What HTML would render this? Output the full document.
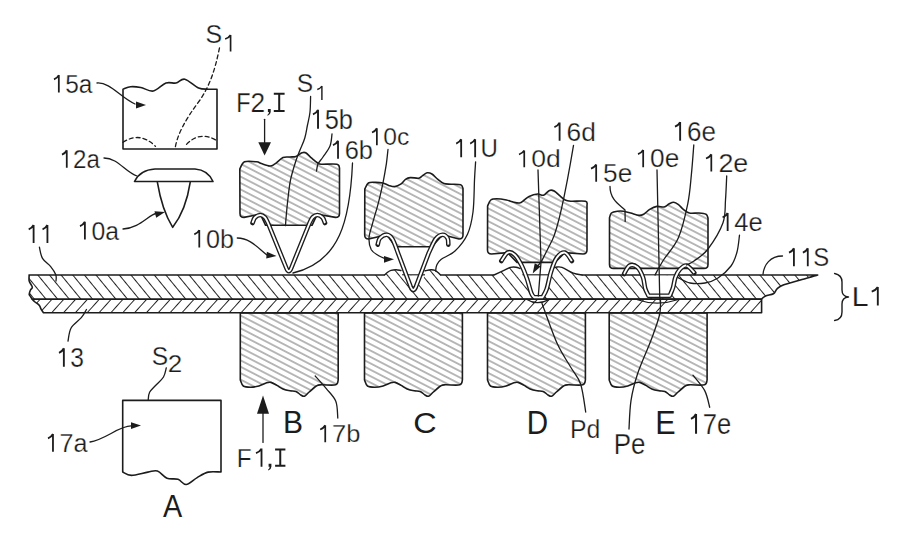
<!DOCTYPE html>
<html><head><meta charset="utf-8">
<style>
html,body{margin:0;padding:0;background:#fff;width:918px;height:537px;overflow:hidden}
svg{display:block}
text{font-family:"Liberation Sans",sans-serif;fill:#1c1c1c;stroke:#fff;stroke-width:0.25px}
</style></head><body>
<svg width="918" height="537" viewBox="0 0 918 537">
<defs>
<pattern id="hbU" patternUnits="userSpaceOnUse" width="60" height="5.69" patternTransform="translate(490.50,206.37) rotate(27.3)"><line x1="-10" y1="2.845" x2="70" y2="2.845" stroke="#4a4a4a" stroke-width="0.8"/></pattern>
<pattern id="hbL" patternUnits="userSpaceOnUse" width="60" height="5.69" patternTransform="translate(490.70,319.77) rotate(27.3)"><line x1="-10" y1="2.845" x2="70" y2="2.845" stroke="#4a4a4a" stroke-width="0.8"/></pattern>
<pattern id="h11" patternUnits="userSpaceOnUse" width="60" height="9.0" patternTransform="translate(111.08,272.04) rotate(50.6)"><line x1="-10" y1="4.5" x2="70" y2="4.5" stroke="#222" stroke-width="1.15"/></pattern>
<pattern id="h13" patternUnits="userSpaceOnUse" width="60" height="8.8" patternTransform="translate(107.63,309.76) rotate(-48)"><line x1="-10" y1="4.4" x2="70" y2="4.4" stroke="#222" stroke-width="1.15"/></pattern>
</defs>

<g fill="none" stroke="#1c1c1c" stroke-width="1.6" stroke-linejoin="round" stroke-linecap="round">
<path d="M29,275 L817.7,275 C815.1,275.8 807.6,277.9 802.0,279.5 C796.4,281.1 787.9,283.2 783.8,284.7 C779.7,286.2 779.0,287.1 777.3,288.6 C775.6,290.1 775.3,292.6 773.4,293.8 C771.5,295.0 767.6,295.0 765.6,295.9 C763.6,296.8 762.3,298.5 761.6,299.0 L32.3,299.3 C32.0,298.8 31.0,297.4 30.5,296.5 C30.0,295.6 29.2,295.3 29.2,294.2 C29.2,293.1 30.0,291.2 30.5,290.0 C31.0,288.8 32.5,288.5 32.3,287.0 C32.1,285.5 29.7,283.0 29.2,281.0 C28.7,279.0 29.2,276.0 29.2,275.0 Z" fill="url(#h11)"/>
<path d="M32.3,299.3 L761.6,299.3 L761.6,312.8 L43.5,312.8 C43.1,312.2 41.7,310.2 41.0,309.0 C40.3,307.8 40.4,306.6 39.4,305.4 C38.4,304.2 36.2,303.0 35.0,302.0 C33.8,301.0 32.8,299.8 32.3,299.3 Z" fill="url(#h13)"/>
<path d="M384.5,275.0 C385.1,274.5 386.9,272.8 388.0,272.0 C389.1,271.2 389.7,270.8 391.0,270.4 C392.3,270.0 394.3,269.7 396.0,269.7 C397.7,269.7 400.2,270.4 401.0,270.5 L402.5,276.2 L384.5,276.2 Z" fill="#fff" stroke="none"/>
<path d="M384.5,275.0 C385.1,274.5 386.9,272.8 388.0,272.0 C389.1,271.2 389.7,270.8 391.0,270.4 C392.3,270.0 394.3,269.7 396.0,269.7 C397.7,269.7 400.2,270.4 401.0,270.5 L402.5,276.2 L384.5,276.2 Z" fill="url(#h11)" stroke="none"/>
<path d="M425,276.2 L425,270.8 C426.0,270.6 429.3,269.8 431.0,269.7 C432.7,269.6 433.8,269.8 435.0,270.3 C436.2,270.8 437.1,271.7 438.0,272.5 C438.9,273.3 440.1,274.6 440.5,275.0 L440.5,276.2 Z" fill="#fff" stroke="none"/>
<path d="M425,276.2 L425,270.8 C426.0,270.6 429.3,269.8 431.0,269.7 C432.7,269.6 433.8,269.8 435.0,270.3 C436.2,270.8 437.1,271.7 438.0,272.5 C438.9,273.3 440.1,274.6 440.5,275.0 L440.5,276.2 Z" fill="url(#h11)" stroke="none"/>
<path d="M494.0,275.0 C495.6,274.3 500.7,272.0 503.4,270.7 C506.1,269.4 508.3,268.0 510.4,267.4 C512.5,266.8 514.4,267.0 516.0,267.2 C517.6,267.4 519.3,268.3 520.0,268.5 L523,276.2 L494,276.2 Z" fill="#fff" stroke="none"/>
<path d="M494.0,275.0 C495.6,274.3 500.7,272.0 503.4,270.7 C506.1,269.4 508.3,268.0 510.4,267.4 C512.5,266.8 514.4,267.0 516.0,267.2 C517.6,267.4 519.3,268.3 520.0,268.5 L523,276.2 L494,276.2 Z" fill="url(#h11)" stroke="none"/>
<path d="M549,276.2 L551,268.5 C551.8,268.3 554.2,267.4 556.0,267.2 C557.8,267.0 559.1,266.4 562.0,267.4 C564.9,268.4 570.0,271.9 573.3,273.2 C576.6,274.5 580.5,274.7 582.0,275.0 L582,276.2 Z" fill="#fff" stroke="none"/>
<path d="M549,276.2 L551,268.5 C551.8,268.3 554.2,267.4 556.0,267.2 C557.8,267.0 559.1,266.4 562.0,267.4 C564.9,268.4 570.0,271.9 573.3,273.2 C576.6,274.5 580.5,274.7 582.0,275.0 L582,276.2 Z" fill="url(#h11)" stroke="none"/>
<path d="M384.5,275.0 C385.1,274.5 386.9,272.8 388.0,272.0 C389.1,271.2 389.7,270.8 391.0,270.4 C392.3,270.0 394.3,269.7 396.0,269.7 C397.7,269.7 400.2,270.4 401.0,270.5" stroke-width="1.4"/>
<path d="M425.0,270.8 C426.0,270.6 429.3,269.8 431.0,269.7 C432.7,269.6 433.8,269.8 435.0,270.3 C436.2,270.8 437.1,271.7 438.0,272.5 C438.9,273.3 440.1,274.6 440.5,275.0" stroke-width="1.4"/>
<path d="M494.0,275.0 C495.6,274.3 500.7,272.0 503.4,270.7 C506.1,269.4 508.3,268.0 510.4,267.4 C512.5,266.8 514.4,267.0 516.0,267.2 C517.6,267.4 519.3,268.3 520.0,268.5" stroke-width="1.4"/>
<path d="M551.0,268.5 C551.8,268.3 554.2,267.4 556.0,267.2 C557.8,267.0 559.1,266.4 562.0,267.4 C564.9,268.4 570.0,271.9 573.3,273.2 C576.6,274.5 580.5,274.7 582.0,275.0" stroke-width="1.4"/>
<path d="M527,299.4 Q537,306 549.5,299.4" stroke-width="1.2"/>
<path d="M637.4,299.7 Q657,306.5 677.6,299.7" stroke-width="1.2"/>
<path d="M400.5,275.6 L413.3,291 L425.5,275.6 Z" fill="#fff" stroke="none"/>
<path d="M522,275.6 L527.1,279 L531.3,293 L534,297 L542.5,297 L546.7,289 L549.5,275.6 Z" fill="#fff" stroke="none"/>
<path d="M642,275.4 L645,288 L648.5,295.8 L669.8,295.8 L673,287 L676,275.4 Z" fill="#fff" stroke="none"/>
<path d="M239.8,169.0 C240.6,167.8 241.8,163.0 244.6,161.8 C247.4,160.6 253.8,161.5 256.6,161.8 C259.4,162.1 259.2,162.9 261.4,163.6 C263.6,164.3 267.6,165.9 269.8,166.0 C272.0,166.1 272.3,165.6 274.5,164.2 C276.7,162.8 280.4,158.8 283.0,157.6 C285.6,156.4 287.8,157.2 290.0,157.0 C292.2,156.8 294.0,157.1 296.0,156.4 C298.0,155.7 300.4,153.4 302.0,152.8 C303.6,152.2 304.1,151.9 305.7,152.8 C307.3,153.7 309.7,156.5 311.7,158.2 C313.7,159.9 316.1,162.0 317.7,163.0 C319.3,164.0 318.1,164.0 321.3,164.2 C324.5,164.4 333.9,163.6 336.9,164.2 C339.9,164.8 339.1,167.4 339.5,168.0 L339.5,213.4 Q339.5,217.4 335.5,217.4L317.3,214.2 L312.0,225.3 L265.6,225.3 L260.3,214.2 L244,217.4 Q240,217.4 240,213.4 Z" fill="url(#hbU)"/>
<path d="M364.8,189.0 C365.4,188.0 366.6,184.1 368.4,183.0 C370.2,181.9 373.2,182.4 375.6,182.4 C378.0,182.4 380.6,182.5 382.8,183.0 C385.0,183.5 386.8,184.8 388.8,185.4 C390.8,186.0 392.8,186.8 394.8,186.6 C396.8,186.4 398.9,185.4 400.7,184.2 C402.5,183.0 403.9,180.5 405.5,179.4 C407.1,178.3 408.1,177.8 410.3,177.6 C412.5,177.4 416.7,178.5 418.7,178.2 C420.7,177.9 420.9,176.7 422.3,175.8 C423.7,174.9 425.5,173.1 427.1,172.8 C428.7,172.5 430.1,172.9 431.9,174.0 C433.7,175.1 435.9,177.8 437.9,179.4 C439.9,181.0 441.7,182.8 443.9,183.6 C446.1,184.4 448.2,184.0 451.0,184.2 C453.8,184.4 458.7,184.1 460.7,184.8 C462.7,185.5 462.6,187.9 463.0,188.5 L463,235 Q463,239 459,239L442.7,234.8 L431.8,246.7 L395.5,246.7 L386.8,234.8 L368.7,239 Q364.7,239 364.7,235 Z" fill="url(#hbU)"/>
<path d="M487.6,206.0 C488.1,205.0 489.3,201.2 490.8,200.0 C492.3,198.8 494.2,198.8 496.8,198.8 C499.4,198.8 503.8,199.5 506.4,200.0 C509.0,200.5 510.2,201.3 512.4,201.8 C514.6,202.3 517.5,203.3 519.5,203.0 C521.5,202.7 522.7,201.1 524.3,200.0 C525.9,198.9 526.9,197.4 529.1,196.4 C531.3,195.4 535.1,194.2 537.5,194.0 C539.9,193.8 541.5,195.8 543.5,195.2 C545.5,194.6 547.7,191.1 549.5,190.4 C551.3,189.7 552.7,190.2 554.3,191.0 C555.9,191.8 557.3,193.7 559.1,195.2 C560.9,196.7 563.1,199.0 565.1,200.0 C567.1,201.0 567.6,201.0 571.0,201.2 C574.4,201.4 582.8,200.5 585.5,201.2 C588.2,201.9 586.8,204.8 587.0,205.5 L587,250 Q587,254 583,254L564.9,252.6 L555.0,262.4 L517.0,262.4 L507.6,252.6 L491.5,254 Q487.5,254 487.5,250 Z" fill="url(#hbU)"/>
<path d="M609.5,217.8 C609.8,217.0 610.1,214.1 611.4,213.0 C612.7,211.9 615.4,211.5 617.4,211.2 C619.4,210.9 621.2,210.9 623.4,211.2 C625.6,211.5 628.0,212.3 630.6,213.0 C633.2,213.7 636.8,215.2 639.0,215.4 C641.2,215.6 641.9,215.2 643.7,214.2 C645.5,213.2 647.5,210.7 649.7,209.4 C651.9,208.1 654.5,206.8 656.9,206.4 C659.3,206.0 662.1,207.4 664.1,207.0 C666.1,206.6 667.3,204.8 668.9,204.0 C670.5,203.2 672.1,202.1 673.7,202.2 C675.3,202.3 676.9,203.4 678.5,204.6 C680.1,205.8 681.5,208.0 683.3,209.4 C685.1,210.8 686.7,212.4 689.3,213.0 C691.9,213.6 696.1,212.8 698.9,213.0 C701.7,213.2 704.5,213.4 706.0,214.2 C707.5,215.0 707.7,217.4 708.0,218.0 L708,264.4 Q708,268.4 704,268.4 L613.5,268.4 Q609.5,268.4 609.5,264.4 Z" fill="url(#hbU)"/>
<path d="M240.3,313 L338.20000000000005,313 L338.20000000000005,380 C337.8,380.8 338.4,384.0 335.6,384.8 C332.8,385.6 324.4,384.6 321.2,384.8 C318.0,385.0 318.4,384.8 316.4,386.0 C314.4,387.2 311.2,390.3 309.2,392.0 C307.2,393.7 305.8,395.7 304.4,396.2 C303.0,396.7 302.2,395.8 300.8,395.0 C299.4,394.2 297.8,392.1 296.0,391.4 C294.2,390.7 292.2,391.2 290.0,390.8 C287.8,390.4 285.1,389.9 282.9,389.0 C280.7,388.1 278.9,386.5 276.9,385.4 C274.9,384.3 272.7,382.8 270.9,382.4 C269.1,382.0 268.1,382.4 266.1,383.0 C264.1,383.6 261.5,385.3 258.9,386.0 C256.3,386.7 253.1,387.2 250.5,387.2 C247.9,387.2 245.0,387.2 243.3,386.0 C241.6,384.8 240.8,381.0 240.3,380.0 Z" fill="url(#hbL)"/>
<path d="M364.5,313 L462.4,313 L462.4,380 C462.0,380.8 462.6,384.0 459.8,384.8 C457.0,385.6 448.6,384.6 445.4,384.8 C442.2,385.0 442.6,384.8 440.6,386.0 C438.6,387.2 435.4,390.3 433.4,392.0 C431.4,393.7 430.0,395.7 428.6,396.2 C427.2,396.7 426.4,395.8 425.0,395.0 C423.6,394.2 422.0,392.1 420.2,391.4 C418.4,390.7 416.4,391.2 414.2,390.8 C412.0,390.4 409.3,389.9 407.1,389.0 C404.9,388.1 403.1,386.5 401.1,385.4 C399.1,384.3 396.9,382.8 395.1,382.4 C393.3,382.0 392.3,382.4 390.3,383.0 C388.3,383.6 385.7,385.3 383.1,386.0 C380.5,386.7 377.3,387.2 374.7,387.2 C372.1,387.2 369.2,387.2 367.5,386.0 C365.8,384.8 365.0,381.0 364.5,380.0 Z" fill="url(#hbL)"/>
<path d="M487.5,313 L585.4,313 L585.4,380 C585.0,380.8 585.6,384.0 582.8,384.8 C580.0,385.6 571.6,384.6 568.4,384.8 C565.2,385.0 565.6,384.8 563.6,386.0 C561.6,387.2 558.4,390.3 556.4,392.0 C554.4,393.7 553.0,395.7 551.6,396.2 C550.2,396.7 549.4,395.8 548.0,395.0 C546.6,394.2 545.0,392.1 543.2,391.4 C541.4,390.7 539.4,391.2 537.2,390.8 C535.0,390.4 532.3,389.9 530.1,389.0 C527.9,388.1 526.1,386.5 524.1,385.4 C522.1,384.3 519.9,382.8 518.1,382.4 C516.3,382.0 515.3,382.4 513.3,383.0 C511.3,383.6 508.7,385.3 506.1,386.0 C503.5,386.7 500.3,387.2 497.7,387.2 C495.1,387.2 492.2,387.2 490.5,386.0 C488.8,384.8 488.0,381.0 487.5,380.0 Z" fill="url(#hbL)"/>
<path d="M609.2,313 L707.1,313 L707.1,380 C706.7,380.8 707.3,384.0 704.5,384.8 C701.7,385.6 693.3,384.6 690.1,384.8 C686.9,385.0 687.3,384.8 685.3,386.0 C683.3,387.2 680.1,390.3 678.1,392.0 C676.1,393.7 674.7,395.7 673.3,396.2 C671.9,396.7 671.1,395.8 669.7,395.0 C668.3,394.2 666.7,392.1 664.9,391.4 C663.1,390.7 661.1,391.2 658.9,390.8 C656.7,390.4 654.0,389.9 651.8,389.0 C649.6,388.1 647.8,386.5 645.8,385.4 C643.8,384.3 641.6,382.8 639.8,382.4 C638.0,382.0 637.0,382.4 635.0,383.0 C633.0,383.6 630.4,385.3 627.8,386.0 C625.2,386.7 622.0,387.2 619.4,387.2 C616.8,387.2 613.9,387.2 612.2,386.0 C610.5,384.8 609.7,381.0 609.2,380.0 Z" fill="url(#hbL)"/>
<path d="M123,149 L123,89.2 C124.3,88.8 127.7,87.0 130.7,86.7 C133.7,86.4 137.0,86.8 140.8,87.5 C144.6,88.2 149.1,91.8 153.3,91.0 C157.5,90.2 162.2,84.3 166.0,83.0 C169.8,81.7 172.9,83.6 176.0,83.0 C179.1,82.4 181.0,78.4 184.8,79.2 C188.6,80.0 194.6,86.3 198.6,88.0 C202.6,89.7 205.5,89.0 208.6,89.2 C211.7,89.4 215.6,89.2 217.0,89.2 L217,149 Z"/>
<path d="M122.7,400.4 L221,400.4 L221,472 C219.0,472.1 212.1,471.2 208.1,472.1 C204.1,473.0 200.8,475.5 197.2,477.6 C193.5,479.7 189.4,484.2 186.2,484.5 C183.0,484.8 181.2,480.4 178.0,479.3 C174.8,478.2 170.4,479.6 167.0,478.2 C163.6,476.8 160.6,472.0 157.4,471.0 C154.2,470.0 152.2,471.4 147.9,472.1 C143.6,472.8 135.6,475.4 131.4,475.4 C127.2,475.4 124.2,472.7 122.7,472.1 Z"/>
<path d="M123,142.3 Q140,131 155.5,146.4 M186.5,144.4 Q200,130.5 216.3,140.3 M219.5,47.8 C215,70 210,85 200,100 C185,120 177,135 175,149" stroke-dasharray="4 3" stroke-width="1.3"/>
<path d="M134.5,181.5 Q140,170 155,169 L195,169 Q208,170 213,181.5 Z"/>
<path d="M157.4,182.3 Q162,210 172.7,227.3 Q186,210 190.2,182.3"/>
<path d="M252.5,223.0 C252.9,222.1 253.7,218.8 255.0,217.5 C256.3,216.2 258.6,215.0 260.3,215.0 C262.0,215.0 263.7,216.2 265.0,217.5 C266.3,218.8 267.5,222.1 268.0,223.0 L286.3,268 Q288.8,274.5 291.3,268 L309.5,223 C310.0,222.1 311.2,218.8 312.5,217.5 C313.8,216.2 315.6,215.0 317.3,215.0 C319.0,215.0 321.2,216.2 322.5,217.5 C323.8,218.8 324.6,222.1 325.0,223.0" stroke-width="4.6"/>
<path d="M252.5,223.0 C252.9,222.1 253.7,218.8 255.0,217.5 C256.3,216.2 258.6,215.0 260.3,215.0 C262.0,215.0 263.7,216.2 265.0,217.5 C266.3,218.8 267.5,222.1 268.0,223.0 L286.3,268 Q288.8,274.5 291.3,268 L309.5,223 C310.0,222.1 311.2,218.8 312.5,217.5 C313.8,216.2 315.6,215.0 317.3,215.0 C319.0,215.0 321.2,216.2 322.5,217.5 C323.8,218.8 324.6,222.1 325.0,223.0" stroke="#fff" stroke-width="1.9" stroke-linecap="butt"/>
<path d="M377.7,244.6 C378.1,243.6 378.3,239.9 379.8,238.3 C381.3,236.7 384.7,234.7 386.8,234.8 C388.9,234.9 390.5,236.0 392.4,239.0 C394.3,242.0 397.1,250.7 398.0,253.0 L410.8,287 Q413.3,293 415.8,287 L428.7,253 C429.9,250.7 433.4,242.0 435.7,239.0 C438.0,236.0 440.7,234.9 442.7,234.8 C444.7,234.7 446.7,236.7 447.6,238.3 C448.5,239.9 448.2,243.6 448.3,244.6" stroke-width="4.6"/>
<path d="M377.7,244.6 C378.1,243.6 378.3,239.9 379.8,238.3 C381.3,236.7 384.7,234.7 386.8,234.8 C388.9,234.9 390.5,236.0 392.4,239.0 C394.3,242.0 397.1,250.7 398.0,253.0 L410.8,287 Q413.3,293 415.8,287 L428.7,253 C429.9,250.7 433.4,242.0 435.7,239.0 C438.0,236.0 440.7,234.9 442.7,234.8 C444.7,234.7 446.7,236.7 447.6,238.3 C448.5,239.9 448.2,243.6 448.3,244.6" stroke="#fff" stroke-width="1.9" stroke-linecap="butt"/>
<path d="M501.3,261.0 C502.4,259.6 505.4,253.7 507.6,252.6 C509.8,251.5 512.3,252.6 514.6,254.7 C516.9,256.8 519.4,261.1 521.5,265.2 C523.6,269.3 525.5,274.5 527.1,279.1 C528.7,283.8 530.1,290.1 531.3,293.1 C532.5,296.1 533.6,296.6 534.1,297.3 L542.5,297.3 C543.2,295.9 545.3,293.1 546.7,288.9 C548.1,284.7 549.3,277.2 550.9,272.1 C552.5,267.0 554.2,261.4 556.5,258.2 C558.8,254.9 562.3,252.1 564.9,252.6 C567.5,253.1 570.7,259.6 571.9,261.0" stroke-width="4.6"/>
<path d="M501.3,261.0 C502.4,259.6 505.4,253.7 507.6,252.6 C509.8,251.5 512.3,252.6 514.6,254.7 C516.9,256.8 519.4,261.1 521.5,265.2 C523.6,269.3 525.5,274.5 527.1,279.1 C528.7,283.8 530.1,290.1 531.3,293.1 C532.5,296.1 533.6,296.6 534.1,297.3 L542.5,297.3 C543.2,295.9 545.3,293.1 546.7,288.9 C548.1,284.7 549.3,277.2 550.9,272.1 C552.5,267.0 554.2,261.4 556.5,258.2 C558.8,254.9 562.3,252.1 564.9,252.6 C567.5,253.1 570.7,259.6 571.9,261.0" stroke="#fff" stroke-width="1.9" stroke-linecap="butt"/>
<path d="M624.0,274.0 C624.9,272.6 627.3,266.7 629.5,265.6 C631.7,264.5 635.1,265.3 637.4,267.3 C639.6,269.3 641.7,273.9 643.0,277.4 C644.3,280.9 644.3,285.4 645.2,288.5 C646.1,291.6 648.0,294.6 648.5,295.8 L669.8,295.8 C670.3,294.4 672.2,290.5 673.1,287.4 C674.0,284.3 674.3,280.4 675.4,277.4 C676.5,274.4 677.9,271.5 679.8,269.5 C681.7,267.5 684.2,265.0 686.6,265.6 C689.0,266.2 693.1,271.7 694.4,272.9" stroke-width="4.6"/>
<path d="M624.0,274.0 C624.9,272.6 627.3,266.7 629.5,265.6 C631.7,264.5 635.1,265.3 637.4,267.3 C639.6,269.3 641.7,273.9 643.0,277.4 C644.3,280.9 644.3,285.4 645.2,288.5 C646.1,291.6 648.0,294.6 648.5,295.8 L669.8,295.8 C670.3,294.4 672.2,290.5 673.1,287.4 C674.0,284.3 674.3,280.4 675.4,277.4 C676.5,274.4 677.9,271.5 679.8,269.5 C681.7,267.5 684.2,265.0 686.6,265.6 C689.0,266.2 693.1,271.7 694.4,272.9" stroke="#fff" stroke-width="1.9" stroke-linecap="butt"/>
<path d="M97,83 C110,82 120,97 135,104" stroke-width="1.3"/>
<path d="M104,158 C118,158 125,172 137,176" stroke-width="1.3"/>
<path d="M123,229 C140,228 148,215 157,213" stroke-width="1.3"/>
<path d="M39.4,247.2 C39.9,249.1 40.6,255.2 42.5,258.4 C44.4,261.6 48.5,263.9 50.7,266.6 C52.9,269.3 54.9,272.4 55.8,274.8 C56.7,277.2 56.0,280.0 56.0,281.0" stroke-width="1.3"/>
<path d="M86.5,309.5 C85.6,310.9 83.9,314.6 81.3,317.7 C78.7,320.8 73.3,324.1 71.1,328.0 C68.9,331.9 68.5,339.0 68.0,341.2" stroke-width="1.3"/>
<path d="M166.3,367.8 C165.8,369.3 165.2,374.1 163.5,377.0 C161.8,379.9 158.1,382.8 155.8,385.3 C153.5,387.9 150.9,389.9 149.6,392.3 C148.3,394.8 148.4,398.7 148.2,400.0" stroke-width="1.3"/>
<path d="M90,442 C105,440 120,425 132,426" stroke-width="1.3"/>
<path d="M264.6,119.3 L264.6,143" stroke-width="1.3"/>
<path d="M310.6,96.5 C310.5,99.1 310.5,107.2 310.0,112.0 C309.5,116.8 308.4,120.7 307.5,125.0 C306.6,129.3 306.1,133.8 304.8,138.0 C303.6,142.2 301.5,146.1 300.0,150.0 C298.5,153.9 297.2,156.7 295.6,161.7 C294.0,166.7 291.8,173.6 290.5,180.0 C289.2,186.4 288.5,194.2 287.8,200.0 C287.1,205.8 286.7,210.7 286.3,215.0 C285.9,219.3 285.6,223.8 285.5,225.6" stroke-width="1.3"/>
<path d="M332.0,134.0 C331.7,136.0 331.5,142.2 330.0,146.0 C328.5,149.8 325.0,154.0 323.0,157.0 C321.0,160.0 319.1,161.7 318.0,164.0 C316.9,166.3 316.8,169.8 316.5,171.0" stroke-width="1.3"/>
<path d="M352.5,163 C350,220 340,262 293,273" stroke-width="1.3"/>
<path d="M237.3,238 C250,238 258,248 267,255" stroke-width="1.3"/>
<path d="M388.0,149.5 C387.7,151.8 387.2,157.9 386.4,163.6 C385.5,169.2 384.2,176.8 382.9,183.4 C381.5,190.0 380.1,196.3 378.3,203.1 C376.6,209.9 373.9,218.2 372.4,224.0 C370.8,229.8 369.2,233.7 369.0,238.0 C368.8,242.3 369.8,246.8 371.3,249.7 C372.9,252.6 375.9,253.9 378.3,255.5 C380.8,257.1 384.7,258.4 386.0,259.0" stroke-width="1.3"/>
<path d="M475.6,161.9 C475.4,164.9 474.9,171.7 474.5,180.0 C474.1,188.3 474.2,203.0 473.0,212.0 C471.8,221.0 470.5,227.7 467.5,234.2 C464.5,240.7 459.4,246.8 455.0,251.0 C450.6,255.2 444.0,257.1 441.0,259.4 C438.0,261.7 437.7,263.1 436.8,265.0 C435.9,266.9 435.8,270.0 435.6,271.0" stroke-width="1.3"/>
<path d="M538,170 L541,262 L536,268" stroke-width="1.3"/>
<path d="M573.5,145.3 C566,190 558,228 552.3,240 L541,262.4 L538.3,296" stroke-width="1.3"/>
<path d="M610,186.5 C610,200 620,205 625,210 L625.2,221.4" stroke-width="1.3"/>
<path d="M657,170 L659.7,296 L660.5,303" stroke-width="1.3"/>
<path d="M693.8,145.0 C693.4,149.9 692.4,164.5 691.4,174.4 C690.4,184.3 689.9,193.6 687.7,204.2 C685.5,214.8 682.4,228.4 678.4,237.7 C674.4,247.0 667.4,253.8 663.5,260.0 C659.6,266.2 656.4,272.5 655.0,275.0" stroke-width="1.3"/>
<path d="M726.7,176.0 C726.5,180.0 726.1,192.2 725.5,200.0 C724.9,207.8 725.9,214.6 723.0,222.8 C720.1,231.0 712.8,242.6 708.0,249.0 C703.2,255.4 697.6,258.3 694.0,261.0 C690.4,263.7 687.8,264.3 686.6,265.0" stroke-width="1.3"/>
<path d="M739.5,235.2 C739.1,238.0 738.4,246.9 737.0,252.0 C735.6,257.1 734.2,261.7 731.0,266.0 C727.8,270.3 722.3,275.2 718.0,278.0 C713.7,280.8 709.7,282.2 705.0,283.0 C700.3,283.8 694.6,283.9 690.0,283.0 C685.4,282.1 679.7,278.3 677.6,277.4" stroke-width="1.3"/>
<path d="M782.5,256 C770,256 764,265 763,274.3" stroke-width="1.3"/>
<path d="M315.2,376.0 C317.1,378.1 322.9,384.4 326.3,388.6 C329.7,392.8 333.9,396.4 335.8,401.3 C337.7,406.2 337.5,415.2 337.8,418.0" stroke-width="1.3"/>
<path d="M263,442.4 L263,412" stroke-width="1.3"/>
<path d="M542.0,303.4 C544.5,310.1 552.4,333.0 557.2,343.6 C562.0,354.2 566.7,360.3 570.6,367.0 C574.5,373.7 578.1,376.5 580.6,384.0 C583.1,391.5 584.9,407.3 585.7,412.0" stroke-width="1.3"/>
<path d="M660.5,298.0 C660.3,300.8 661.1,307.9 659.5,315.0 C657.9,322.1 654.6,330.5 651.0,340.3 C647.4,350.1 640.9,363.8 637.6,373.8 C634.3,383.9 632.4,391.4 631.0,400.6 C629.6,409.8 629.3,424.3 629.0,429.0" stroke-width="1.3"/>
<path d="M692.9,375.2 C694.9,377.8 701.9,385.2 704.7,390.6 C707.5,396.0 708.9,404.5 709.7,407.3" stroke-width="1.3"/>
<path d="M834.6,273.5 Q842,275 842,282 L842,290 Q842,296.5 848.5,297 Q842,297.5 842,304 L842,312 Q842,319.5 834.6,320.5" stroke-width="1.4"/>
<path d="M273.8,93.7 L284.6,93.7 M279.20000000000005,93.7 L279.20000000000005,110.9 M273.8,110.9 L284.6,110.9" stroke-width="2" stroke-linecap="butt"/>
<path d="M275.1,449.6 L285.4,449.6 M280.25,449.6 L280.25,465.8 M275.1,465.8 L285.4,465.8" stroke-width="2" stroke-linecap="butt"/>
</g>
<path d="M267.90000000000003,108.9 L270.7,108.9 L270.7,111.9 Q270.5,114.7 267.7,115.7 L267.3,114.9 Q268.90000000000003,113.9 269.0,111.9 L267.90000000000003,111.9 Z" fill="#1c1c1c"/>
<path d="M268.6,463.8 L271.4,463.8 L271.4,466.8 Q271.2,469.6 268.4,470.6 L268,469.8 Q269.6,468.8 269.7,466.8 L268.6,466.8 Z" fill="#1c1c1c"/>
<path d="M146,105 l-10,-3.4 l0,6.8 z" transform="rotate(0 146 105)" fill="#1c1c1c"/>
<path d="M165,212 l-10,-3.4 l0,6.8 z" transform="rotate(-15 165 212)" fill="#1c1c1c"/>
<path d="M141,425.6 l-10,-3.4 l0,6.8 z" transform="rotate(0 141 425.6)" fill="#1c1c1c"/>
<path d="M276.5,256 l-10,-3.4 l0,6.8 z" transform="rotate(5 276.5 256)" fill="#1c1c1c"/>
<path d="M394,259.3 l-10,-3.4 l0,6.8 z" transform="rotate(0 394 259.3)" fill="#1c1c1c"/>
<path d="M532.7,273.5 l-10,-3.4 l0,6.8 z" transform="rotate(120 532.7 273.5)" fill="#1c1c1c"/>
<path d="M258.3,142.3 L271,142.3 L264.6,155.5 Z" fill="#1c1c1c"/>
<path d="M257,413.8 L269,413.8 L263,395.5 Z" fill="#1c1c1c"/>
<g>
<text x="51.68" y="92.55" font-size="25.29" textLength="40.78" lengthAdjust="spacingAndGlyphs"> 5a</text><path class="t1" d="M58.83,75.10 L58.83,92.55 M58.83,75.10 Q57.30,78.13 54.00,79.40" fill="none" stroke="#1c1c1c" stroke-width="1.77"/>
<text x="59.71" y="167.75" font-size="25.35" textLength="40.25" lengthAdjust="spacingAndGlyphs"> 2a</text><path class="t1" d="M66.77,150.25 L66.77,167.75 M66.77,150.25 Q65.26,153.30 62.00,154.56" fill="none" stroke="#1c1c1c" stroke-width="1.77"/>
<text x="77.65" y="239.54" font-size="25.77" textLength="41.31" lengthAdjust="spacingAndGlyphs"> 0a</text><path class="t1" d="M84.89,221.76 L84.89,239.54 M84.89,221.76 Q83.34,224.85 80.00,226.14" fill="none" stroke="#1c1c1c" stroke-width="1.80"/>
<path class="t1" d="M33.61,225.00 L33.61,242.90 M33.61,225.00 Q32.06,228.11 28.70,229.41" fill="none" stroke="#1c1c1c" stroke-width="1.82"/><path class="t1" d="M47.43,225.00 L47.43,242.90 M47.43,225.00 Q45.88,228.11 42.52,229.41" fill="none" stroke="#1c1c1c" stroke-width="1.82"/>
<text x="56.66" y="366.73" font-size="26.76" textLength="27.38" lengthAdjust="spacingAndGlyphs"> 3</text><path class="t1" d="M63.86,348.27 L63.86,366.73 M63.86,348.27 Q62.32,351.48 59.00,352.82" fill="none" stroke="#1c1c1c" stroke-width="1.87"/>
<text x="45.61" y="451.74" font-size="25.71" textLength="41.95" lengthAdjust="spacingAndGlyphs"> 7a</text><path class="t1" d="M52.97,434.00 L52.97,451.74 M52.97,434.00 Q51.39,437.09 48.00,438.37" fill="none" stroke="#1c1c1c" stroke-width="1.80"/>
<text x="163.00" y="516.50" font-size="31.16" textLength="19.20" lengthAdjust="spacingAndGlyphs" style="stroke:none">A</text>
<text x="310.59" y="128.73" font-size="27.40" textLength="42.39" lengthAdjust="spacingAndGlyphs"> 5b</text><path class="t1" d="M318.02,109.82 L318.02,128.73 M318.02,109.82 Q316.43,113.11 313.00,114.48" fill="none" stroke="#1c1c1c" stroke-width="1.92"/>
<text x="330.59" y="158.74" font-size="26.03" textLength="42.39" lengthAdjust="spacingAndGlyphs"> 6b</text><path class="t1" d="M338.02,140.78 L338.02,158.74 M338.02,140.78 Q336.43,143.90 333.00,145.21" fill="none" stroke="#1c1c1c" stroke-width="1.82"/>
<text x="369.66" y="145.25" font-size="24.65" textLength="39.73" lengthAdjust="spacingAndGlyphs"> 0c</text><path class="t1" d="M376.87,128.25 L376.87,145.25 M376.87,128.25 Q375.33,131.20 372.00,132.44" fill="none" stroke="#1c1c1c" stroke-width="1.73"/>
<text x="191.90" y="247.55" font-size="25.34" textLength="42.06" lengthAdjust="spacingAndGlyphs"> 0b</text><path class="t1" d="M199.28,230.06 L199.28,247.55 M199.28,230.06 Q197.70,233.10 194.30,234.37" fill="none" stroke="#1c1c1c" stroke-width="1.77"/>
<text x="453.81" y="157.24" font-size="26.14" textLength="44.25" lengthAdjust="spacingAndGlyphs">  U</text><path class="t1" d="M461.17,139.20 L461.17,157.24 M461.17,139.20 Q459.59,142.34 456.20,143.64" fill="none" stroke="#1c1c1c" stroke-width="1.83"/><path class="t1" d="M475.15,139.20 L475.15,157.24 M475.15,139.20 Q473.57,142.34 470.18,143.64" fill="none" stroke="#1c1c1c" stroke-width="1.83"/>
<text x="551.90" y="140.74" font-size="26.30" textLength="43.90" lengthAdjust="spacingAndGlyphs"> 6d</text><path class="t1" d="M559.60,122.59 L559.60,140.74 M559.60,122.59 Q557.95,125.75 554.40,127.06" fill="none" stroke="#1c1c1c" stroke-width="1.84"/>
<text x="516.48" y="167.16" font-size="24.25" textLength="44.34" lengthAdjust="spacingAndGlyphs"> 0d</text><path class="t1" d="M524.25,150.43 L524.25,167.16 M524.25,150.43 Q522.59,153.34 519.00,154.55" fill="none" stroke="#1c1c1c" stroke-width="1.70"/>
<text x="588.51" y="181.75" font-size="25.14" textLength="43.76" lengthAdjust="spacingAndGlyphs"> 5e</text><path class="t1" d="M596.18,164.40 L596.18,181.75 M596.18,164.40 Q594.54,167.42 591.00,168.67" fill="none" stroke="#1c1c1c" stroke-width="1.76"/>
<text x="635.51" y="167.15" font-size="24.93" textLength="43.76" lengthAdjust="spacingAndGlyphs"> 0e</text><path class="t1" d="M643.18,149.95 L643.18,167.15 M643.18,149.95 Q641.54,152.94 638.00,154.19" fill="none" stroke="#1c1c1c" stroke-width="1.75"/>
<text x="672.53" y="140.73" font-size="27.04" textLength="43.43" lengthAdjust="spacingAndGlyphs"> 6e</text><path class="t1" d="M680.14,122.07 L680.14,140.73 M680.14,122.07 Q678.51,125.32 675.00,126.67" fill="none" stroke="#1c1c1c" stroke-width="1.89"/>
<text x="703.45" y="171.55" font-size="25.07" textLength="44.85" lengthAdjust="spacingAndGlyphs"> 2e</text><path class="t1" d="M711.31,154.25 L711.31,171.55 M711.31,154.25 Q709.63,157.26 706.00,158.51" fill="none" stroke="#1c1c1c" stroke-width="1.75"/>
<text x="720.17" y="231.04" font-size="26.14" textLength="42.66" lengthAdjust="spacingAndGlyphs"> 4e</text><path class="t1" d="M727.65,213.00 L727.65,231.04 M727.65,213.00 Q726.05,216.14 722.60,217.44" fill="none" stroke="#1c1c1c" stroke-width="1.83"/>
<text x="786.63" y="266.14" font-size="25.92" textLength="42.49" lengthAdjust="spacingAndGlyphs">  S</text><path class="t1" d="M793.92,248.26 L793.92,266.14 M793.92,248.26 Q792.36,251.37 789.00,252.66" fill="none" stroke="#1c1c1c" stroke-width="1.81"/><path class="t1" d="M807.78,248.26 L807.78,266.14 M807.78,248.26 Q806.22,251.37 802.86,252.66" fill="none" stroke="#1c1c1c" stroke-width="1.81"/>
<text x="851.64" y="305.50" font-size="26.81" textLength="34.29" lengthAdjust="spacingAndGlyphs">L </text><path class="t1" d="M877.81,287.00 L877.81,305.50 M877.81,287.00 Q875.88,290.22 871.72,291.56" fill="none" stroke="#1c1c1c" stroke-width="1.88"/>
<text x="283.00" y="432.80" font-size="31.16" textLength="20.01" lengthAdjust="spacingAndGlyphs" style="stroke:none">B</text>
<text x="317.77" y="442.35" font-size="24.79" textLength="42.60" lengthAdjust="spacingAndGlyphs"> 7b</text><path class="t1" d="M325.24,425.24 L325.24,442.35 M325.24,425.24 Q323.65,428.22 320.20,429.46" fill="none" stroke="#1c1c1c" stroke-width="1.74"/>
<text x="413.38" y="432.70" font-size="29.58" textLength="23.39" lengthAdjust="spacingAndGlyphs" style="stroke:none">C</text>
<text x="526.63" y="433.50" font-size="33.19" textLength="21.42" lengthAdjust="spacingAndGlyphs" style="stroke:none">D</text>
<text x="570.01" y="437.75" font-size="25.21" textLength="30.35" lengthAdjust="spacingAndGlyphs">Pd</text>
<text x="655.26" y="434.00" font-size="33.77" textLength="20.37" lengthAdjust="spacingAndGlyphs" style="stroke:none">E</text>
<text x="688.57" y="433.71" font-size="28.57" textLength="42.66" lengthAdjust="spacingAndGlyphs"> 7e</text><path class="t1" d="M696.05,414.00 L696.05,433.71 M696.05,414.00 Q694.45,417.43 691.00,418.86" fill="none" stroke="#1c1c1c" stroke-width="2.00"/>
<text x="613.73" y="453.71" font-size="28.57" textLength="31.69" lengthAdjust="spacingAndGlyphs">Pe</text>
<text x="205.55" y="43.44" font-size="26.34" textLength="16.62" lengthAdjust="spacingAndGlyphs">S</text>
<path class="t1" d="M230.58,35.00 L230.58,51.50 M230.58,35.00 Q228.87,37.87 225.15,39.07" fill="none" stroke="#1c1c1c" stroke-width="1.67"/>
<text x="296.77" y="92.43" font-size="26.62" textLength="16.38" lengthAdjust="spacingAndGlyphs">S</text>
<path class="t1" d="M321.90,86.00 L321.90,100.00 M321.90,86.00 Q320.44,88.43 317.29,89.45" fill="none" stroke="#1c1c1c" stroke-width="1.42"/>
<text x="151.77" y="364.74" font-size="26.48" textLength="16.38" lengthAdjust="spacingAndGlyphs">S</text>
<text x="167.70" y="372.00" font-size="23.86" textLength="14.51" lengthAdjust="spacingAndGlyphs">2</text>
<text x="236.29" y="111.90" font-size="27.54" textLength="14.30" lengthAdjust="spacingAndGlyphs">F</text>
<text x="250.58" y="111.90" font-size="27.14" textLength="14.63" lengthAdjust="spacingAndGlyphs">2</text>
<text x="236.76" y="466.80" font-size="26.38" textLength="14.83" lengthAdjust="spacingAndGlyphs">F</text>
<path class="t1" d="M261.52,448.60 L261.52,466.80 M261.52,448.60 Q259.77,451.77 256.00,453.08" fill="none" stroke="#1c1c1c" stroke-width="1.85"/>
</g>
</svg></body></html>
